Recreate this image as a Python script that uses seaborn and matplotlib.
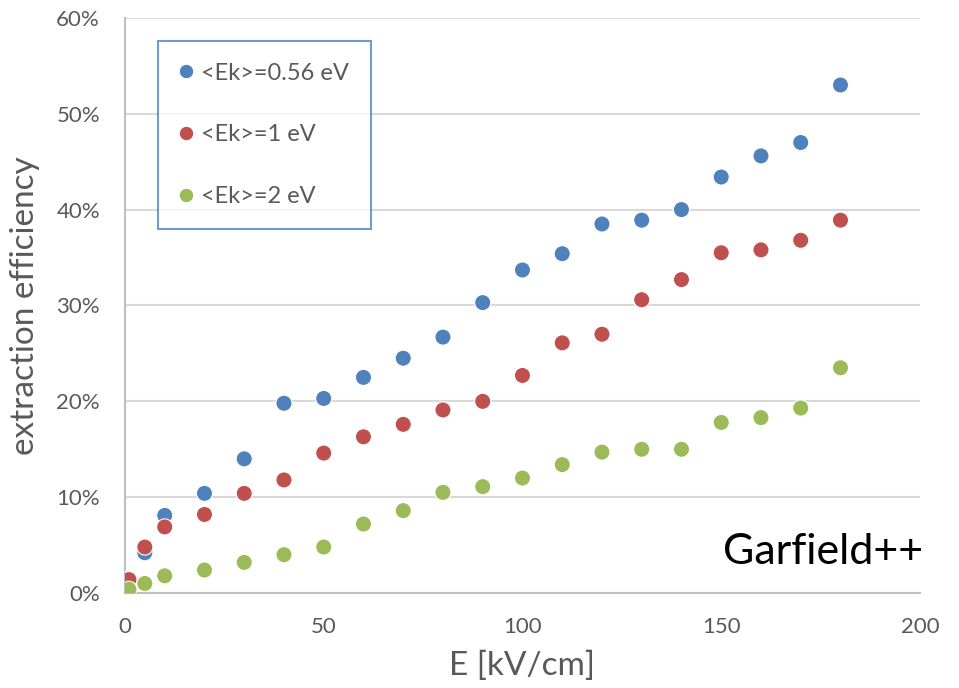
import matplotlib
matplotlib.use("Agg")
import matplotlib.pyplot as plt
import seaborn as sns
import pandas as pd
from matplotlib.ticker import FuncFormatter, MultipleLocator

E = [1, 5, 10, 20, 30, 40, 50, 60, 70, 80, 90, 100, 110, 120, 130, 140, 150, 160, 170, 180]
eff_056 = [1.5, 4.2, 8.1, 10.4, 14.0, 19.8, 20.3, 22.5, 24.5, 26.7, 30.3, 33.7, 35.4, 38.5, 38.9, 40.0, 43.4, 45.6, 47.0, 53.0]
eff_1 = [1.4, 4.8, 6.9, 8.2, 10.4, 11.8, 14.6, 16.3, 17.6, 19.1, 20.0, 22.7, 26.1, 27.0, 30.6, 32.7, 35.5, 35.8, 36.8, 38.9]
eff_2 = [0.4, 1.0, 1.8, 2.4, 3.2, 4.0, 4.8, 7.2, 8.6, 10.5, 11.1, 12.0, 13.4, 14.7, 15.0, 15.0, 17.8, 18.3, 19.3, 23.5]
labels = ["<Ek>=0.56 eV", "<Ek>=1 eV", "<Ek>=2 eV"]
colors = ["#4F81BD", "#C0504D", "#9BBB59"]

rows = []
for lab, vals in zip(labels, [eff_056, eff_1, eff_2]):
    for e, v in zip(E, vals):
        rows.append({"E": e, "eff": v / 100.0, "series": lab})
df = pd.DataFrame(rows)

sns.set_style("white")
plt.rcParams["font.family"] = ["Lato", "DejaVu Sans"]

fig = plt.figure(figsize=(9.59, 6.88), dpi=100)
ax = fig.add_axes([0.1303, 0.138, 0.829, 0.836])

sns.scatterplot(data=df, x="E", y="eff", hue="series", hue_order=labels,
                palette=colors, s=135, edgecolor="white", linewidth=0.8,
                ax=ax, zorder=3)

ax.set_xlim(0, 200)
ax.set_ylim(0, 0.6)
ax.xaxis.set_major_locator(MultipleLocator(50))
ax.yaxis.set_major_locator(MultipleLocator(0.1))
ax.yaxis.set_major_formatter(FuncFormatter(lambda v, p: f"{v*100:.0f}%"))
ax.grid(axis="y", color="#D9D9D9", linewidth=1.5, zorder=0)
ax.set_axisbelow(True)
for s in ["top", "right"]:
    ax.spines[s].set_visible(False)
for s in ["left", "bottom"]:
    ax.spines[s].set_color("#BFBFBF")
    ax.spines[s].set_linewidth(1.5)
ax.tick_params(axis="both", which="both", length=0, labelsize=16, colors="#595959")
ax.tick_params(axis="y", pad=18)
ax.tick_params(axis="x", pad=17)

ax.set_xlabel("E [kV/cm]", fontsize=24, color="#595959", labelpad=10)
ax.set_ylabel("extraction efficiency", fontsize=24, color="#595959", labelpad=12)

leg = ax.legend(loc="upper left", bbox_to_anchor=(0.041, 0.96), frameon=True,
                fontsize=17, labelspacing=1.72, handletextpad=0.33,
                borderpad=0.92, borderaxespad=0, fancybox=False,
                markerscale=0.9, handlelength=0.6)
leg.get_frame().set_edgecolor("#4F81BD")
leg.get_frame().set_linewidth(1.5)
for t in leg.get_texts():
    t.set_color("#595959")

ax.text(1.004, 0.05, "Garfield++", transform=ax.transAxes, ha="right",
        va="baseline", fontsize=31, color="black")

fig.savefig("out.png", dpi=100)
